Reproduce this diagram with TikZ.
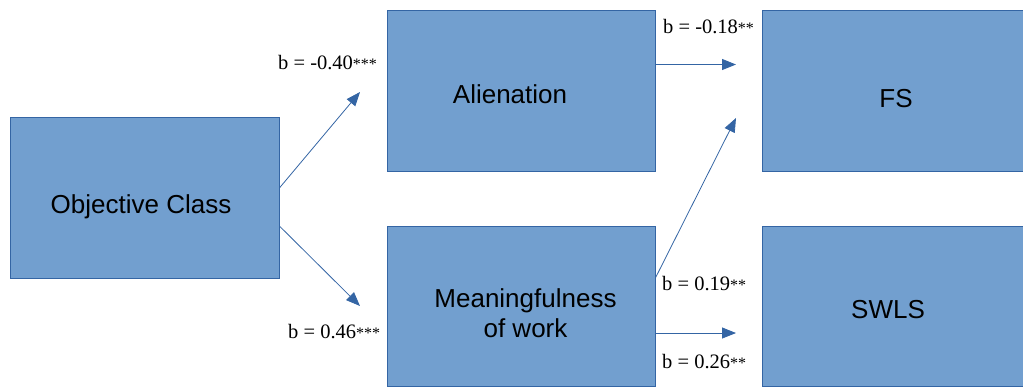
\documentclass[tikz,border=0pt]{standalone}
\usepackage{fontspec}
\setmainfont{Liberation Serif}
\setsansfont{Liberation Sans}
\usetikzlibrary{arrows.meta}

\definecolor{boxfill}{HTML}{729FCF}
\definecolor{boxline}{HTML}{3465A4}

% text in a box: #1 = twice the shift to the right, #2 = drop of the baseline
\newcommand{\boxlabel}[3]{\raisebox{-#2}[0pt][0pt]{\makebox[0pt]{\hspace*{#1}#3}}}
\newcommand{\stars}[1]{{\fontsize{16}{16}\selectfont #1}}

\tikzset{
  varbox/.style={draw=boxline,fill=boxfill,line width=0.8pt,inner sep=0pt,
    minimum width=268pt,minimum height=161pt,
    font=\sffamily\fontsize{26}{30}\selectfont},
  coef/.style={inner sep=0pt,anchor=base west,font=\fontsize{20.5}{24}\selectfont},
  path/.style={->,draw=boxline,line width=0.8pt}
}

\begin{document}
\begin{tikzpicture}[x=1pt,y=-1pt,>={Triangle[length=14pt,width=11pt]}]
  \useasboundingbox (0,0) rectangle (1023,386);
  % variables
  \node[varbox,minimum width=269pt] (cls) at (144.5,198) {\boxlabel{-7pt}{15pt}{Objective Class}};
  \node[varbox] (ali) at (521,90.5) {\boxlabel{-22pt}{12.5pt}{Alienation}};
  \node[varbox,minimum height=160pt] (mng) at (521,306)
    {\boxlabel{9pt}{31pt}{\begin{tabular}[b]{@{}c@{}}Meaningfulness\\of work\end{tabular}}};
  \node[varbox,minimum width=262pt] (fs) at (893,90.5) {\boxlabel{6pt}{16.5pt}{FS}};
  \node[varbox,minimum width=262pt,minimum height=160pt] (swls) at (893,306) {\boxlabel{-10pt}{12pt}{SWLS}};
  % arrow ends
  \coordinate (t1) at (360,92);
  \coordinate (t2) at (360,306);
  \coordinate (t3) at (736,64.5);
  \coordinate (t4) at (736,118);
  \coordinate (t5) at (736,333);
  \draw[path] ([yshift=10pt]cls.east) -- (t1);
  \draw[path] ([yshift=-28pt]cls.east) -- (t2);
  \draw[path] ([yshift=26pt]ali.east) -- (t3);
  \draw[path] ([yshift=28pt]mng.east) -- (t4);
  \draw[path] ([yshift=-27pt]mng.east) -- (t5);
  % coefficients
  \node[coef] (b1) at (278,69) {b = -0.40\stars{***}};
  \node[coef] (b2) at (288,338) {b = 0.46\stars{***}};
  \node[coef] (b3) at (663,33) {b = -0.18\stars{**}};
  \node[coef] (b4) at (662,290) {b = 0.19\stars{**}};
  \node[coef] (b5) at (662,368) {b = 0.26\stars{**}};
\end{tikzpicture}
\end{document}
